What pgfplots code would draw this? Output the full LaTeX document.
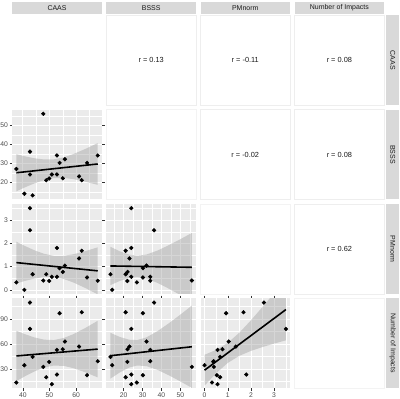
\documentclass[border=0pt]{standalone}
\usepackage{fontspec}
\setmainfont{Liberation Sans}
\usepackage{pgfplots}
\usepackage{pgfplotstable}
\pgfplotsset{compat=1.18}
\definecolor{ggbg}{HTML}{EBEBEB}
\definecolor{ggstrip}{HTML}{D9D9D9}
\definecolor{ggtext}{HTML}{1A1A1A}
\definecolor{ggtl}{HTML}{4D4D4D}
\definecolor{ggtick}{HTML}{333333}
\definecolor{ggborder}{HTML}{EEEEEE}

\pgfplotstableread{
caas bsss pm imp
37.6 27.0 0.32 13.6
40.6 14.0 0.00 34.4
42.7 36.1 2.56 109.6
42.7 24.1 3.51 78.0
43.7 13.1 0.67 44.4
47.7 56.0 0.40 32.4
48.8 21.1 0.67 20.0
49.9 22.0 0.38 38.4
50.9 24.1 0.56 11.6
52.8 34.1 0.56 52.8
52.8 24.1 1.80 23.2
53.8 30.2 0.93 96.8
55.0 22.1 0.77 53.6
55.8 32.1 1.04 62.8
61.1 23.1 1.35 56.8
62.1 21.1 1.68 98.0
64.1 30.2 0.53 22.4
68.1 34.1 0.39 39.2
}\data

\pgfplotsset{
  gg/.style={
    scale only axis, width=89.5bp, height=89.8bp, anchor=south west,
    axis background/.style={fill=ggbg},
    axis line style={draw=none},
    xmajorgrids, ymajorgrids, xminorgrids, yminorgrids,
    major grid style={white, line width=0.6bp},
    minor grid style={white, line width=0.3bp},
    tick align=outside,
    major tick length=2.75bp, minor tick length=0pt,
    tick style={ggtick, line width=0.5bp},
    ticklabel style={font=\fontsize{6.8}{7}\selectfont, text=ggtl},
    /pgf/number format/assume math mode=true,
    xticklabel style={inner sep=1.2bp},
    yticklabel style={inner sep=1.4bp},
  },
  noxlab/.style={xticklabels={}, xtick style={draw=none}},
  noylab/.style={yticklabels={}, ytick style={draw=none}},
  caasx/.style={xmin=36.075, xmax=69.625, xtick={40,50,60}, minor xtick={45,55,65}},
  bsssx/.style={xmin=10.955, xmax=58.145, xtick={20,30,40,50}, minor xtick={15,25,35,45,55}},
  pmx/.style={xmin=-0.1755, xmax=3.6855, xtick={0,1,2,3}, minor xtick={0.5,1.5,2.5,3.5}},
  bsssy/.style={ymin=10.955, ymax=58.145, ytick={20,30,40,50}, minor ytick={15,25,35,45,55}},
  pmy/.style={ymin=-0.1755, ymax=3.6855, ytick={0,1,2,3}, minor ytick={0.5,1.5,2.5,3.5}},
  impy/.style={ymin=6.7, ymax=114.5, ytick={30,60,90}, minor ytick={15,45,75,105}},
  band/.style={fill=black!40, fill opacity=0.4, draw=none},
  fitline/.style={black, line width=1.6bp},
  pts/.style={only marks, mark=*, mark size=1.9bp, black},
}

\begin{document}
\begin{tikzpicture}
\useasboundingbox (0,0) rectangle (400bp,399bp);

% ---------- strips (top) ----------
\foreach \x/\lab in {12.3/CAAS, 106.4/BSSS, 200.5/PMnorm, 294.6/Number of Impacts}{
  \fill[ggstrip] (\x bp,384.9bp) rectangle ++(89.5bp,12.5bp);
  \node[text=ggtext, font=\fontsize{7}{8}\selectfont] at (\x bp+44.75bp,391.15bp) {\lab};
}
% ---------- strips (right) ----------
\foreach \y/\lab in {293.9/CAAS, 199.5/BSSS, 105.1/PMnorm, 10.7/Number of Impacts}{
  \fill[ggstrip] (386bp,\y bp) rectangle ++(13.3bp,89.8bp);
  \node[text=ggtext, font=\fontsize{7}{8}\selectfont, rotate=-90] at (392.65bp,\y bp+44.9bp) {\lab};
}
% ---------- upper / diagonal panels ----------
\foreach \x/\y/\txt in {106.4/293.9/{r = 0.13}, 200.5/293.9/{r = -0.11}, 294.6/293.9/{r = 0.08},
                        200.5/199.5/{r = -0.02}, 294.6/199.5/{r = 0.08},
                        294.6/105.1/{r = 0.62}}{
  \draw[ggborder, line width=0.5bp, fill=white] (\x bp,\y bp) rectangle ++(89.5bp,89.8bp);
  \node[text=ggtext, font=\fontsize{7.4}{8}\selectfont] at (\x bp+44.75bp,\y bp+44.9bp) {\txt};
}
\foreach \x/\y in {106.4/199.5, 200.5/105.1, 294.6/10.7}{
  \draw[ggborder!70, line width=0.5bp] (\x bp,\y bp) rectangle ++(89.5bp,89.8bp);
}

% ---------- row 2: BSSS vs CAAS ----------
\begin{axis}[gg, at={(12.3bp,199.5bp)}, caasx, bsssy, noxlab]
\addplot[band] coordinates {(37.6,34.77) (41,33.59) (44.5,32.59) (48,31.99) (51.68,32.08) (55.5,33.17) (59,34.85) (63.5,37.55) (68.1,40.62)
  (68.1,18.64) (63.5,20.31) (59,21.65) (55.5,22.27) (51.68,22.20) (48,21.17) (44.5,19.51) (41,17.45) (37.6,15.25)} -- cycle;
\addplot[fitline] coordinates {(37.6,25.01) (68.1,29.63)};
\addplot[pts] table[x=caas, y=bsss] {\data};
\end{axis}

% ---------- row 3: PMnorm vs CAAS ----------
\begin{axis}[gg, at={(12.3bp,105.1bp)}, caasx, pmy, noxlab]
\addplot[band] coordinates {(37.6,2.069) (41,1.874) (44.5,1.693) (48,1.548) (51.68,1.462) (55.5,1.463) (59,1.530) (63.5,1.663) (68.1,1.828)
  (68.1,-0.196) (63.5,0.075) (59,0.314) (55.5,0.461) (51.68,0.552) (48,0.552) (44.5,0.488) (41,0.388) (37.6,0.272)} -- cycle;
\addplot[fitline] coordinates {(37.6,1.170) (68.1,0.816)};
\addplot[pts] table[x=caas, y=pm] {\data};
\end{axis}

% ---------- row 3: PMnorm vs BSSS ----------
\begin{axis}[gg, at={(106.4bp,105.1bp)}, bsssx, pmy, noxlab, noylab]
\addplot[band] coordinates {(13.1,1.848) (18,1.657) (23,1.513) (27.14,1.464) (32,1.515) (38,1.691) (44,1.924) (50,2.179) (56,2.445)
  (56,-0.509) (50,-0.227) (44,0.044) (38,0.293) (32,0.485) (27.14,0.549) (23,0.512) (18,0.381) (13.1,0.203)} -- cycle;
\addplot[fitline] coordinates {(13.1,1.026) (56,0.968)};
\addplot[pts] table[x=bsss, y=pm] {\data};
\end{axis}

% ---------- row 4: Impacts vs CAAS ----------
\begin{axis}[gg, at={(12.3bp,10.7bp)}, caasx, impy]
\addplot[band] coordinates {(37.6,75.74) (41,71.43) (44.5,67.65) (48,65.08) (51.68,64.62) (55.5,67.21) (59,71.73) (63.5,79.20) (68.1,87.76)
  (68.1,19.76) (63.5,25.84) (59,30.87) (55.5,33.51) (51.68,34.04) (48,31.60) (44.5,27.15) (41,21.47) (37.6,15.34)} -- cycle;
\addplot[fitline] coordinates {(37.6,45.54) (68.1,53.76)};
\addplot[pts] table[x=caas, y=imp] {\data};
\end{axis}

% ---------- row 4: Impacts vs BSSS ----------
\begin{axis}[gg, at={(106.4bp,10.7bp)}, bsssx, impy, noylab]
\addplot[band] coordinates {(13.1,73.27) (18,68.35) (23,65.00) (27.14,64.61) (32,67.76) (38,75.41) (44,84.95) (50,95.25) (56,105.91)
  (56,7.25) (50,14.91) (44,22.19) (38,28.71) (32,33.36) (27.14,34.05) (23,31.60) (18,25.73) (13.1,18.35)} -- cycle;
\addplot[fitline] coordinates {(13.1,45.81) (56,56.58)};
\addplot[pts] table[x=bsss, y=imp] {\data};
\end{axis}

% ---------- row 4: Impacts vs PMnorm ----------
\begin{axis}[gg, at={(200.5bp,10.7bp)}, pmx, impy, noylab]
\addplot[band] coordinates {(0,46.95) (0.5,52.79) (1.0067,61.37) (1.5,73.43) (2.0,88.29) (2.5,104.37) (3.0,120.96) (3.51,138.18)
  (3.51,64.30) (3.0,60.36) (2.5,56.23) (2.0,51.57) (1.5,45.69) (1.0067,37.29) (0.5,24.85) (0,9.95)} -- cycle;
\addplot[fitline] coordinates {(0,28.45) (3.51,101.24)};
\addplot[pts] table[x=pm, y=imp] {\data};
\end{axis}

\end{tikzpicture}
\end{document}
